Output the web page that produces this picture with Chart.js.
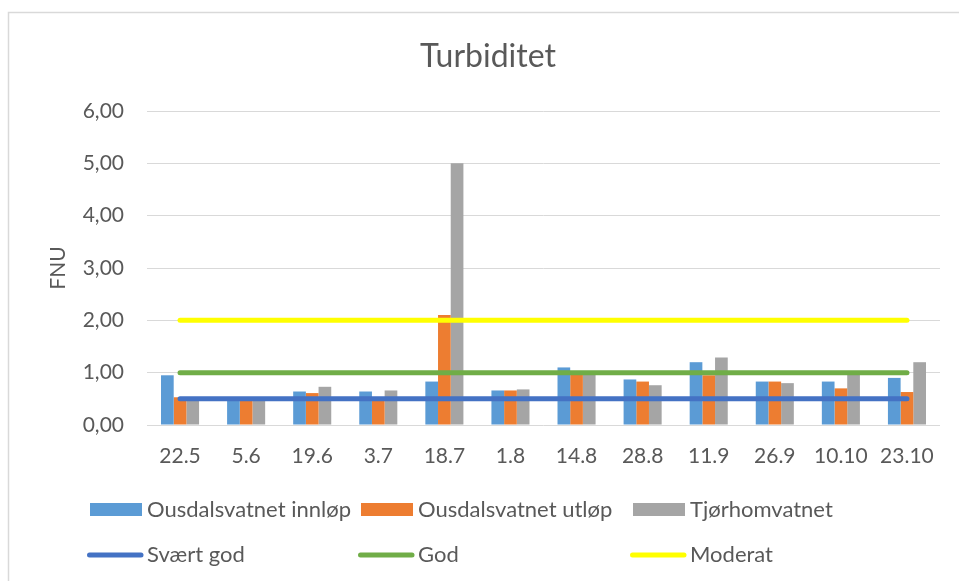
<!DOCTYPE html>
<html>
<head>
<meta charset="utf-8">
<script src="https://cdn.jsdelivr.net/npm/chart.js@4/dist/chart.umd.min.js"></script>
<style>
  html, body { margin: 0; padding: 0; background: #fff; overflow: hidden; }
  #wrap { position: relative; width: 959px; height: 581px; }
</style>
</head>
<body>
<div id="wrap"><canvas id="c" width="959" height="581"></canvas></div>
<script>
const categories = ['22.5','5.6','19.6','3.7','18.7','1.8','14.8','28.8','11.9','26.9','10.10','23.10'];
const innlop   = [0.95, 0.50, 0.64, 0.64, 0.83, 0.66, 1.10, 0.87, 1.20, 0.83, 0.83, 0.90];
const utlop    = [0.53, 0.48, 0.61, 0.50, 2.10, 0.66, 1.00, 0.83, 0.95, 0.83, 0.70, 0.63];
const tjorhom  = [0.50, 0.50, 0.73, 0.66, 5.00, 0.68, 0.98, 0.76, 1.29, 0.80, 1.00, 1.20];
const svaertGod = [0.5, 0.5, 0.5, 0.5, 0.5, 0.5, 0.5, 0.5, 0.5, 0.5, 0.5, 0.5];
const god       = [1, 1, 1, 1, 1, 1, 1, 1, 1, 1, 1, 1];
const moderat   = [2, 2, 2, 2, 2, 2, 2, 2, 2, 2, 2, 2];
const seriesNames = ['Ousdalsvatnet innløp', 'Ousdalsvatnet utløp', 'Tjørhomvatnet', 'Svært god', 'God', 'Moderat'];
const titleText = 'Turbiditet';
const yTitle = 'FNU';

const FONT = 'Lato';
const TXT = '#595959';

const bg = {
  id: 'bg',
  beforeDraw(chart) {
    const ctx = chart.ctx;
    ctx.save();
    ctx.fillStyle = '#fff';
    ctx.fillRect(0, 0, chart.width, chart.height);
    ctx.strokeStyle = '#d9d9d9';
    ctx.lineWidth = 1.5;
    ctx.strokeRect(8.5, 12.5, 1000, 1000);
    ctx.restore();
  }
};

const customLegend = {
  id: 'customLegend',
  afterDraw(chart) {
    const ctx = chart.ctx;
    const cols = [90, 361, 633];
    const rows = [509.5, 555];
    ctx.save();
    ctx.font = '22px ' + FONT;
    ctx.textBaseline = 'middle';
    chart.data.datasets.forEach((ds, i) => {
      const r = Math.floor(i / 3), c = i % 3;
      const x = cols[c], y = rows[r];
      if (ds.type === 'line') {
        ctx.strokeStyle = ds.borderColor;
        ctx.lineWidth = 5;
        ctx.lineCap = 'round';
        ctx.beginPath();
        ctx.moveTo(x - 0.5, y);
        ctx.lineTo(x + 51, y);
        ctx.stroke();
      } else {
        ctx.fillStyle = ds.backgroundColor;
        ctx.fillRect(x, y - 6.5, 52, 13);
      }
      ctx.fillStyle = TXT;
      ctx.textAlign = 'left';
      ctx.fillText(ds.label, x + 57, y);
    });
    ctx.restore();
  }
};

const barDs = (label, data, color) => ({
  type: 'bar', label, data, backgroundColor: color, borderWidth: 0,
  barPercentage: 1, categoryPercentage: 0.576, order: 2
});
const lineDs = (label, data, color) => ({
  type: 'line', label, data, borderColor: color, backgroundColor: color,
  borderWidth: 5, pointRadius: 0, borderCapStyle: 'round', tension: 0, fill: false, order: 1
});

new Chart(document.getElementById('c'), {
  data: {
    labels: categories,
    datasets: [
      barDs(seriesNames[0], innlop, '#5b9bd5'),
      barDs(seriesNames[1], utlop, '#ed7d31'),
      barDs(seriesNames[2], tjorhom, '#a5a5a5'),
      lineDs(seriesNames[3], svaertGod, '#4472c4'),
      lineDs(seriesNames[4], god, '#70ad47'),
      lineDs(seriesNames[5], moderat, '#ffff00')
    ]
  },
  options: {
    responsive: false,
    animation: false,
    devicePixelRatio: 1,
    layout: { padding: { left: 36, right: 19, top: 0, bottom: 111 } },
    plugins: {
      legend: { display: false },
      tooltip: { enabled: false },
      title: {
        display: true, text: titleText, color: TXT,
        font: { family: FONT, size: 32, weight: 'normal' },
        padding: { top: 37.8, bottom: 34.8 }
      }
    },
    scales: {
      x: {
        grid: { display: false, drawTicks: false },
        border: { display: false },
        ticks: { color: TXT, font: { family: FONT, size: 21 }, padding: 19, maxRotation: 0, autoSkip: false },
        afterFit(s) { s.height = 45; }
      },
      y: {
        min: 0, max: 6,
        grid: { color: '#d9d9d9', lineWidth: 1, drawTicks: false },
        border: { display: false },
        ticks: {
          stepSize: 1, color: TXT, font: { family: FONT, size: 21 }, padding: 23,
          callback: v => v.toFixed(2).replace('.', ',')
        },
        title: { display: true, text: yTitle, color: TXT, font: { family: FONT, size: 21 }, padding: { top: 9.4, bottom: 0 } },
        afterFit(s) { s.width = 111; }
      }
    }
  },
  plugins: [bg, customLegend]
});
</script>
</body>
</html>
